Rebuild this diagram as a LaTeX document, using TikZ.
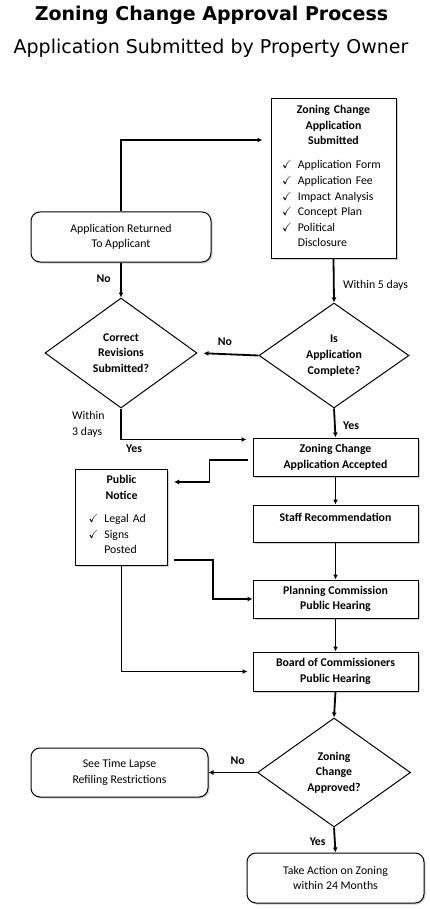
\documentclass[tikz,border=0pt]{standalone}
\usepackage{amssymb}
\usepackage{fontspec}
\setmainfont{Carlito}
\newfontfamily\headfont{DejaVu Sans}
\usetikzlibrary{arrows.meta,shapes.geometric,shadows}

\begin{document}
\begin{tikzpicture}[x=1pt, y=-1pt,
    font=\fontsize{11.8}{15.6}\selectfont,
    box/.style={draw, line width=1pt, fill=white, inner sep=2pt, align=center,
      drop shadow={shadow xshift=1.5pt, shadow yshift=-1.5pt, fill=black!35}},
    stepbox/.style={box, font=\fontsize{11.8}{15.6}\selectfont\bfseries, minimum width=165, minimum height=38},
    roundbox/.style={box, rounded corners=9pt},
    decision/.style={draw, line width=1pt, diamond, inner sep=0pt, aspect=1.4, align=center,
      font=\fontsize{11.8}{15.6}\selectfont\bfseries},
    arr/.style={line width=1.8pt, -{Latex[length=5pt,width=5pt]}},
    lbl/.style={font=\fontsize{11.8}{13}\selectfont\bfseries}]
  \useasboundingbox (0,0) rectangle (430,909);

  \node (title) at (211.5,15) {\headfont\fontsize{19}{22}\selectfont\bfseries Zoning Change Approval Process};
  \node (subtitle) at (211,48) {\headfont\fontsize{19}{22}\selectfont Application Submitted by Property Owner};

  \node[box, minimum width=125, minimum height=159, text width=119, align=left] (sub) at (333.5,178.5)
    {{\centering\bfseries Zoning Change\\ Application\\ Submitted\par}\vspace{12pt}
     \begin{tabular}{@{\hspace{8pt}}l@{\hspace{6pt}}l@{}}
       $\checkmark$ & Application Form\\
       $\checkmark$ & Application Fee\\
       $\checkmark$ & Impact Analysis\\
       $\checkmark$ & Concept Plan\\
       $\checkmark$ & Political\\
                    & Disclosure
     \end{tabular}};
  \node[roundbox, minimum width=180, minimum height=50] (ret) at (121,237) {Application Returned\\ To Applicant};
  \node[decision, minimum width=152, minimum height=110] (corr) at (121,353) {Correct\\ Revisions\\ Submitted?};
  \node[decision, minimum width=150, minimum height=105] (comp) at (334,355.5) {Is\\ Application\\ Complete?};
  \node[stepbox] (acc) at (335.5,457) {Zoning Change\\ Application Accepted};
  \node[box, minimum width=92, minimum height=96, text width=86, align=left] (pub) at (121.5,517)
    {{\centering\bfseries Public\\ Notice\par}\vspace{11pt}
     \begin{tabular}{@{\hspace{10pt}}l@{\hspace{6pt}}l@{}}
       $\checkmark$ & Legal Ad\\
       $\checkmark$ & Signs\\
                    & Posted
     \end{tabular}};
  \node[stepbox, minimum height=37, text depth=13pt] (staff) at (335.5,523.5) {Staff Recommendation};
  \node[stepbox] (plan) at (335.5,599) {Planning Commission\\ Public Hearing};
  \node[stepbox, minimum height=39] (board) at (335.5,671.5) {Board of Commissioners\\ Public Hearing};
  \node[decision, minimum width=153, minimum height=109] (appr) at (334,772.5) {Zoning\\ Change\\ Approved?};
  \node[roundbox, minimum width=177, minimum height=49] (refile) at (119.5,772.5) {See Time Lapse\\ Refiling Restrictions};
  \node[roundbox, minimum width=177, minimum height=50] (act) at (335.5,878) {Take Action on Zoning\\ within 24 Months};

  \draw[arr, shorten >=8pt] (ret.north) |- ([yshift=38.5pt]sub.west);
  \draw[arr] (ret.south) -- node[lbl, left=6pt, pos=0.45] {No} (corr.north);
  \draw[arr] (sub.south) -- node[right=5pt, pos=0.6] {Within 5 days} (comp.north);
  \draw[arr, shorten >=6pt] (comp.west) -- node[lbl, above=4pt, pos=0.55] {No} (corr.east);
  \draw[arr, shorten >=6pt] (corr.south) |- node[pos=0.5, lbl, anchor=north west, xshift=1pt, yshift=-1pt] {Yes} ([yshift=-2pt]acc.north west);
  \node[align=left, anchor=north east] (within3) at (108,408) {Within\\ 3 days};
  \draw[arr] (comp.south) -- node[lbl, right=4pt, pos=0.6] {Yes} (acc.north);
  \draw[arr, shorten <=5pt, shorten >=6pt] ([yshift=-3pt]acc.west) -- ++(-43,0) |- ([yshift=35pt]pub.east);
  \draw[arr] (acc.south) -- (staff.north);
  \draw[arr] (staff.south) -- (plan.north);
  \draw[arr, shorten <=6pt] ([yshift=-43pt]pub.east) -- ++(45,0) |- (plan.west);
  \draw[arr] (plan.south) -- (board.north);
  \draw[arr, shorten >=5pt] (pub.south) |- (board.west);
  \draw[arr] (board.south) -- (appr.north);
  \draw[arr] (appr.west) -- node[lbl, above=4pt, pos=0.4] {No} (refile.east);
  \draw[arr] (appr.south) -- node[lbl, left=5pt, pos=0.55] {Yes} (act.north);
\end{tikzpicture}
\end{document}
